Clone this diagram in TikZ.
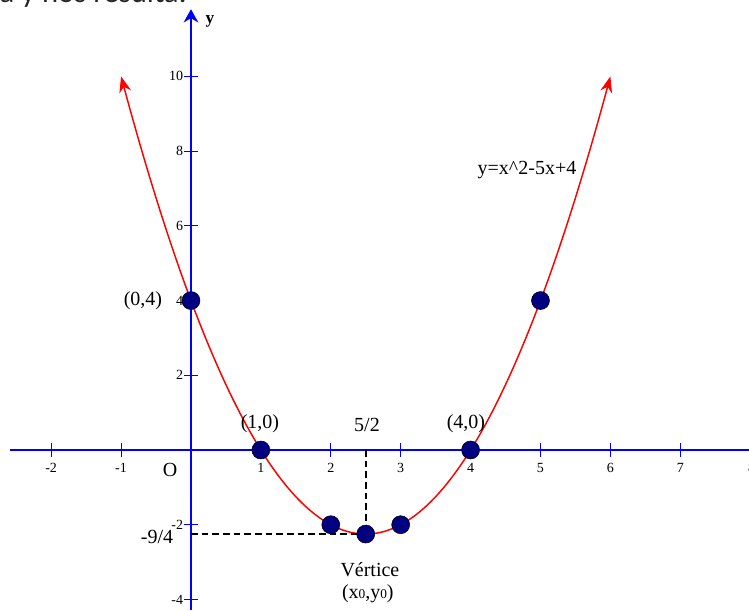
\documentclass[tikz,border=0pt]{standalone}
\usepackage{fontspec}
\setmainfont{Liberation Serif}
\newfontfamily\headfont{Carlito}
\usetikzlibrary{arrows.meta}
\definecolor{dotblue}{RGB}{0,0,128}

\begin{document}
\begin{tikzpicture}[
    x=1.843cm, y=0.985cm,
    >={Stealth[length=12pt,width=9pt]},
    axis/.style={blue, line width=1.5pt},
    tick/.style={blue, line width=0.8pt},
    ticklabel/.style={
        font=\fontsize{10.5}{12}\selectfont,
        text=black,
        inner sep=0pt
    },
    point/.style={
        circle,
        fill=dotblue,
        draw=black,
        line width=0.4pt,
        minimum size=13.5pt,
        inner sep=0pt
    },
    lbl/.style={font=\fontsize{15}{17}\selectfont, inner sep=0pt},
    guide/.style={line width=1.4pt, dash pattern=on 5pt off 3pt}
]

\useasboundingbox (-2.732,-4.283) rectangle (7.983,12.045);

% text above the graph, cut by the page
\node[anchor=base west, inner sep=0pt, text=black!85,
    font=\headfont\fontsize{23}{26}\selectfont] (head) at (-2.74,11.975)
    {a y nos resulta:};

% axes
\coordinate (xs) at (-2.59,0);
\coordinate (xe) at (7.983,0);
\coordinate (ys) at (0,-4.283);
\coordinate (ye) at (0,11.80);

\draw[axis] (xs) -- (xe);
\draw[axis, -{Stealth[length=10pt,width=11pt]}] (ys) -- (ye);

\node[font=\bfseries\fontsize{13}{15}\selectfont] (ylab) at (0.272,11.46) {y};

% ticks on x
\draw[tick] (-2,0) ++(0,-5pt) -- ++(0,10pt);
\draw[tick] (-1,0) ++(0,-5pt) -- ++(0,10pt);
\draw[tick] (1,0) ++(0,-5pt) -- ++(0,10pt);
\draw[tick] (2,0) ++(0,-5pt) -- ++(0,10pt);
\draw[tick] (3,0) ++(0,-5pt) -- ++(0,10pt);
\draw[tick] (4,0) ++(0,-5pt) -- ++(0,10pt);
\draw[tick] (5,0) ++(0,-5pt) -- ++(0,10pt);
\draw[tick] (6,0) ++(0,-5pt) -- ++(0,10pt);
\draw[tick] (7,0) ++(0,-5pt) -- ++(0,10pt);

\node[ticklabel] (xm2) at (-2,-0.48) {-2};
\node[ticklabel] (xm1) at (-1,-0.48) {-1};
\node[ticklabel] (x1) at (1,-0.48) {1};
\node[ticklabel] (x2) at (2,-0.48) {2};
\node[ticklabel] (x3) at (3,-0.48) {3};
\node[ticklabel] (x4) at (4,-0.48) {4};
\node[ticklabel] (x5) at (5,-0.48) {5};
\node[ticklabel] (x6) at (6,-0.48) {6};
\node[ticklabel] (x7) at (7,-0.48) {7};
\node[ticklabel] (x8) at (8.02,-0.48) {8};

% ticks on y
\draw[tick] (0,-4) ++(-5pt,0) -- ++(10pt,0);
\draw[tick] (0,-2) ++(-5pt,0) -- ++(10pt,0);
\draw[tick] (0,2) ++(-5pt,0) -- ++(10pt,0);
\draw[tick] (0,4) ++(-5pt,0) -- ++(10pt,0);
\draw[tick] (0,6) ++(-5pt,0) -- ++(10pt,0);
\draw[tick] (0,8) ++(-5pt,0) -- ++(10pt,0);
\draw[tick] (0,10) ++(-5pt,0) -- ++(10pt,0);

\node[ticklabel, anchor=east] (ym4) at (-0.11,-4) {-4};
\node[ticklabel, anchor=east] (ym2) at (-0.11,-2) {-2};
\node[ticklabel, anchor=east] (y2) at (-0.11,2) {2};
\node[ticklabel, anchor=east] (y4) at (-0.11,4) {4};
\node[ticklabel, anchor=east] (y6) at (-0.11,6) {6};
\node[ticklabel, anchor=east] (y8) at (-0.11,8) {8};
\node[ticklabel, anchor=east] (y10) at (-0.11,10) {10};

% parabola
\draw[red, line width=1.1pt, <->, domain=-1:6, samples=120, smooth]
    plot (\x, {\x*\x-5*\x+4});

% vertex guides
\coordinate (vx) at (2.5,0);
\coordinate (vy) at (0,-2.25);
\coordinate (vv) at (2.5,-2.25);

\draw[guide] (vx) -- (vv);
\draw[guide] (vy) -- (vv);

% points
\node[point] (p04) at (0,4) {};
\node[point] (p10) at (1,0) {};
\node[point] (p2) at (2,-2) {};
\node[point] (pv) at (2.5,-2.25) {};
\node[point] (p3) at (3,-2) {};
\node[point] (p40) at (4,0) {};
\node[point] (p54) at (5,4) {};

% labels
\node[lbl] (l04) at (-0.687,3.99) {(0,4)};
\node[lbl] (l10) at (0.987,0.696) {(1,0)};
\node[lbl] (l40) at (3.934,0.696) {(4,0)};
\node[lbl] (lhalf) at (2.518,0.67) {5/2};
\node[lbl] (lnine) at (-0.486,-2.33) {-9/4};
\node[lbl] (orig) at (-0.30,-0.535) {O};
\node[lbl] (vert) at (2.56,-3.21) {Vértice};
\node[lbl] (vxy) at (2.53,-3.85)
    {(x{\fontsize{10}{10}\selectfont 0},y{\fontsize{10}{10}\selectfont 0})};
\node[lbl] (eq) at (4.807,7.49) {y=x\textasciicircum 2-5x+4};

\end{tikzpicture}
\end{document}
